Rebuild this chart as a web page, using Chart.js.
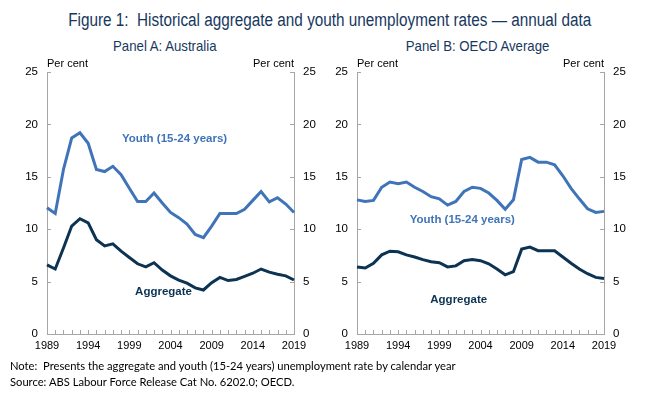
<!DOCTYPE html>
<html>
<head>
<meta charset="utf-8">
<script src="https://cdn.jsdelivr.net/npm/chart.js@4.4.1/dist/chart.umd.min.js"></script>
<style>
  html,body{margin:0;padding:0;background:#fff;}
  body{width:660px;height:399px;position:relative;overflow:hidden;}
  .narrow{font-family:"Liberation Sans",Arial,sans-serif;}
  .wrap{position:absolute;text-align:center;white-space:nowrap;}
  .sq{display:inline-block;transform-origin:50% 50%;}
  #title{left:0;width:660px;top:10px;font-size:18px;color:#17375E;}
  #title .sq{transform:scaleX(0.85);}
  .ptitle{top:37px;width:330px;font-size:15px;color:#17375E;}
  .ptitle .sq{transform:scaleX(0.88);}
  .cv{position:absolute;top:0;}
  #note{position:absolute;left:10px;top:358px;font-family:Lato,"Open Sans",sans-serif;font-size:11.2px;line-height:16px;color:#000;white-space:nowrap;}
</style>
</head>
<body>
<div id="title" class="wrap narrow"><span class="sq">Figure 1:&nbsp; Historical aggregate and youth unemployment rates — annual data</span></div>
<div class="wrap ptitle narrow" style="left:0px;"><span class="sq">Panel A: Australia</span></div>
<div class="wrap ptitle narrow" style="left:313px;"><span class="sq">Panel B: OECD Average</span></div>
<div class="cv" style="left:0px;width:330px;height:360px;"><canvas id="cA"></canvas></div>
<div class="cv" style="left:330px;width:330px;height:360px;"><canvas id="cB"></canvas></div>
<div id="note">Note:&nbsp; Presents the aggregate and youth (15-24 years) unemployment rate by calendar year<br>Source: ABS Labour Force Release Cat No. 6202.0; OECD.</div>
<script>
const years = [];
for (let y = 1989; y <= 2019; y++) years.push(String(y));

const yTicks = [0, 5, 10, 15, 20, 25];

const ausYouth = [12.05, 11.5, 15.7, 18.7, 19.2, 18.2, 15.7, 15.5, 16.0, 15.2, 13.9, 12.65, 12.65, 13.45, 12.5, 11.6, 11.1, 10.5, 9.5, 9.2, 10.3, 11.5, 11.5, 11.5, 11.9, 12.75, 13.6, 12.6, 13.0, 12.4, 11.6];
const ausAggregate = [6.6, 6.2, 8.2, 10.3, 11.0, 10.6, 9.0, 8.4, 8.6, 7.9, 7.3, 6.7, 6.4, 6.8, 6.1, 5.55, 5.15, 4.85, 4.4, 4.2, 4.9, 5.4, 5.1, 5.2, 5.5, 5.8, 6.2, 5.9, 5.7, 5.55, 5.15];
const oecdYouth = [12.8, 12.65, 12.75, 14.0, 14.5, 14.35, 14.5, 14.0, 13.6, 13.1, 12.9, 12.3, 12.65, 13.6, 14.0, 13.9, 13.45, 12.75, 11.9, 12.8, 16.65, 16.85, 16.4, 16.4, 16.15, 15.1, 13.9, 12.9, 11.95, 11.6, 11.7];
const oecdAggregate = [6.4, 6.3, 6.75, 7.55, 7.9, 7.85, 7.55, 7.35, 7.1, 6.9, 6.8, 6.4, 6.5, 7.0, 7.1, 7.0, 6.7, 6.2, 5.65, 5.95, 8.1, 8.3, 7.95, 7.95, 7.95, 7.35, 6.75, 6.2, 5.75, 5.4, 5.3];

const seriesNames = ["Youth (15-24 years)", "Aggregate"];
const youthColor = "#3F74B8";
const aggColor = "#0D3352";
const axisColor = "#A6A6A6";
const SANS = '"Liberation Sans",Arial,sans-serif';

const decoPlugin = {
  id: 'deco',
  afterDraw(chart, args, opts) {
    const ctx = chart.ctx;
    const a = chart.chartArea;
    const x = chart.scales.x, yl = chart.scales.y;
    ctx.save();
    ctx.strokeStyle = axisColor;
    ctx.lineWidth = 1;
    yTicks.forEach(v => {
      const py = Math.round(yl.getPixelForValue(v)) + 0.5;
      ctx.beginPath(); ctx.moveTo(a.left, py); ctx.lineTo(a.left + 4, py); ctx.stroke();
      ctx.beginPath(); ctx.moveTo(a.right, py); ctx.lineTo(a.right - 4, py); ctx.stroke();
    });
    years.forEach((yr, i) => {
      const px = Math.round(x.getPixelForValue(i)) + 0.5;
      ctx.beginPath(); ctx.moveTo(px, a.bottom); ctx.lineTo(px, a.bottom - 4); ctx.stroke();
    });
    ctx.fillStyle = '#000';
    ctx.font = '11px ' + SANS;
    ctx.textBaseline = 'alphabetic';
    ctx.textAlign = 'left';
    ctx.fillText('Per cent', a.left, a.top - 5);
    ctx.textAlign = 'right';
    ctx.fillText('Per cent', a.right, a.top - 5);
    ctx.font = 'bold 11.5px ' + SANS;
    ctx.textBaseline = 'middle';
    ctx.textAlign = 'left';
    opts.labels.forEach(l => {
      ctx.fillStyle = l.color;
      ctx.fillText(l.text, x.getPixelForValue(l.xi), yl.getPixelForValue(l.yv));
    });
    ctx.restore();
  }
};

function makeChart(id, youth, agg, leftW, rightW, labels) {
  return new Chart(document.getElementById(id), {
    type: 'line',
    data: {
      labels: years,
      datasets: [
        { label: seriesNames[0], data: youth, borderColor: youthColor, borderWidth: 3, pointRadius: 0, tension: 0, yAxisID: 'y' },
        { label: seriesNames[1], data: agg, borderColor: aggColor, borderWidth: 3, pointRadius: 0, tension: 0, yAxisID: 'y' }
      ]
    },
    options: {
      responsive: true,
      maintainAspectRatio: false,
      animation: false,
      events: [],
      layout: { padding: { top: 72, left: 0, right: 0, bottom: 0 } },
      plugins: { legend: { display: false }, tooltip: { enabled: false }, deco: { labels } },
      scales: {
        x: {
          type: 'category',
          offset: false,
          grid: { display: false, drawTicks: false },
          border: { display: true, color: axisColor, width: 1 },
          ticks: {
            autoSkip: false, maxRotation: 0, padding: 5,
            color: '#000', font: { family: SANS, size: 11 },
            callback: function(v, i) { return (i % 5 === 0) ? years[i] : ''; }
          },
          afterFit: s => { s.height = 26; }
        },
        y: {
          position: 'left', min: 0, max: 25,
          grid: { display: false, drawTicks: false },
          border: { display: true, color: axisColor, width: 1 },
          ticks: { stepSize: 5, padding: 9, color: '#000', font: { family: SANS, size: 11.5 } },
          afterFit: s => { s.width = leftW; }
        },
        y2: {
          position: 'right', min: 0, max: 25,
          grid: { display: false, drawTicks: false },
          border: { display: true, color: axisColor, width: 1 },
          ticks: { stepSize: 5, padding: 9, color: '#000', font: { family: SANS, size: 11.5 } },
          afterFit: s => { s.width = rightW; }
        }
      }
    },
    plugins: [decoPlugin]
  });
}

makeChart('cA', ausYouth, ausAggregate, 47, 36, [
  { text: seriesNames[0], xi: 9.1, yv: 18.6, color: youthColor },
  { text: seriesNames[1], xi: 10.7, yv: 4.0, color: aggColor }
]);
makeChart('cB', oecdYouth, oecdAggregate, 27, 56, [
  { text: seriesNames[0], xi: 6.4, yv: 10.9, color: youthColor },
  { text: seriesNames[1], xi: 8.9, yv: 3.25, color: aggColor }
]);
</script>
</body>
</html>
